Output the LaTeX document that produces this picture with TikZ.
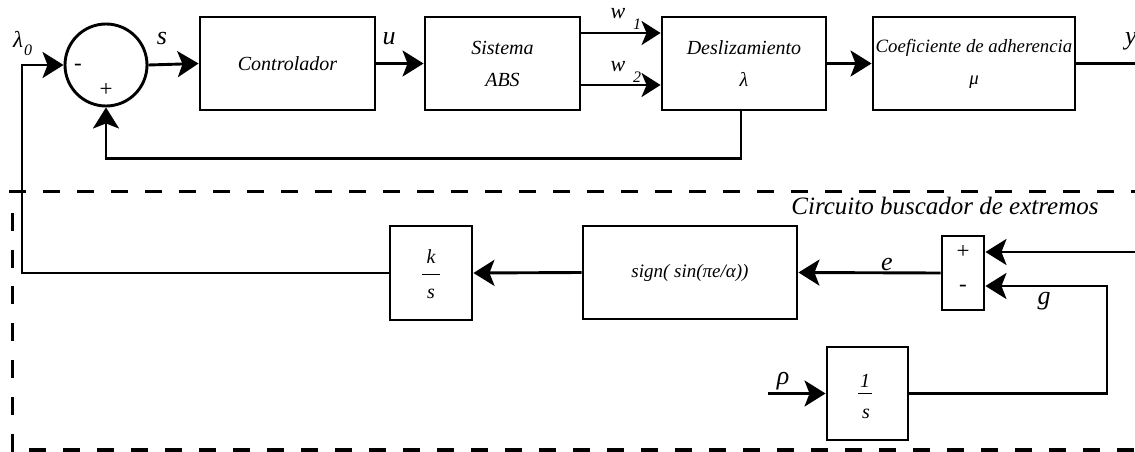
\documentclass[tikz,border=0pt]{standalone}
\usepackage{fontspec}
\setmainfont{Liberation Serif}
\usetikzlibrary{arrows.meta}
\begin{document}
\begin{tikzpicture}[x=1pt,y=-1pt,
  line width=2.9pt,
  arr/.style={-{Stealth[length=21pt,width=26pt,inset=5pt]}},
  arrw/.style={-{Stealth[length=19pt,width=24pt,inset=5pt]}},
  blk/.style={draw, line width=2.9pt, inner sep=0pt, font=\fontsize{20}{22}\selectfont\itshape, align=center},
  lbl/.style={font=\fontsize{26}{28}\selectfont\itshape, inner sep=0pt},
  sml/.style={font=\fontsize{22}{24}\selectfont\itshape, inner sep=0pt},
  sub/.style={font=\fontsize{16}{18}\selectfont\itshape, inner sep=0pt},
  frc/.style={font=\fontsize{20}{22}\selectfont\itshape, inner sep=0pt},
  sgn/.style={font=\fontsize{23}{24}\selectfont, inner sep=0pt},
  dsh/.style={line width=3pt, dash pattern=on 17pt off 17pt}]
\useasboundingbox (0,0) rectangle (1135,452);

% dashed frame
\draw[dsh] (9,191) -- (1135,191);
\draw[dsh, line width=3.4pt, dash phase=17pt] (12,450) -- (1135,450);
\draw[line width=3pt, dash pattern=on 18pt off 18.8pt, dash phase=18pt] (12,194) -- (12,452);

% upper blocks
\node[draw, circle, minimum size=82pt, inner sep=0pt] (sum) at (106,65) {};
\node[sgn] (sm) at (78,67) {-};
\node[sgn] (sp) at (106,90) {+};
\node[blk, minimum width=175pt, minimum height=93pt] (ctrl) at (287.5,63.5) {Controlador};
\node[blk, minimum width=155pt, minimum height=93pt] (abs) at (502.5,63.5) {Sistema\\[10pt]ABS};
\node[blk, minimum width=164pt, minimum height=93pt] (desl) at (744,63.5) {Deslizamiento\\[10pt]λ};
\node[blk, font=\fontsize{18.8}{22}\selectfont\itshape, minimum width=202pt, minimum height=93pt] (coef) at (974,63.5) {Coeficiente de adherencia\\[10pt]μ};

% lower blocks
\node[blk, font=\fontsize{19}{22}\selectfont\itshape, minimum width=214pt, minimum height=93pt] (sgnb) at (690,272.5) {sign( sin(πe/α))};
\node[blk, minimum width=82pt, minimum height=94pt] (ks) at (431,273) {};
\node[blk, minimum width=42pt, minimum height=74pt] (sumb) at (963,273) {};
\node[blk, minimum width=81pt, minimum height=93pt] (oneb) at (867.5,393.5) {};
\node[sgn] (bp) at (963,252) {+};
\node[sgn] (bm) at (963,288) {-};
\node[frc, anchor=base] (kk) at (431,263) {k};
\node[frc, anchor=base] (ks2) at (431,298) {s};
\draw[line width=1pt] (422,274) -- (440,274);
\node[frc, anchor=base] (one) at (865,387) {1};
\node[frc, anchor=base] (os2) at (866,418) {s};
\draw[line width=1pt] (858,393) -- (872,393);

% coordinates
\coordinate (c1) at (22,65);
\coordinate (yout) at (1135,63.5);
\coordinate (yin) at (1135,252);
\coordinate (gc) at (1107,286);
\coordinate (rho) at (768,393.5);

% upper connectors
\draw[arr] (ks.west) -| (c1) -- (sum.west);
\draw[arr] (sum.east) -- (ctrl.west);
\draw[arr] (ctrl.east) -- (abs.west);
\draw[arrw] ([yshift=30.5pt]abs.east) -- ([yshift=30.5pt]desl.west);
\draw[arrw] ([yshift=-21.5pt]abs.east) -- ([yshift=-21.5pt]desl.west);
\draw[arr] (desl.east) -- (coef.west);
\draw (coef.east) -- (yout);
\draw[arr] ([xshift=-3pt]desl.south) -- ++(0,47) -| (sum.south);

% lower connectors
\draw[arr] (yin) -- ([yshift=21pt]sumb.east);
\draw[arr] (oneb.east) -| (gc) -- ([yshift=-13pt]sumb.east);
\draw[arr] (sumb.west) -- (sgnb.east);
\draw[arr] (sgnb.west) -- (ks.east);
\draw[arr] (rho) -- (oneb.west);

% labels
\node[font=\fontsize{23}{24}\selectfont\itshape, inner sep=0pt, anchor=base] (lam) at (18,48) {λ};
\node[sub, anchor=base] (lam0) at (28,56) {0};
\node[lbl, anchor=base] (ls) at (162,45) {s};
\node[lbl, anchor=base] (lu) at (389,45) {u};
\node[sml, anchor=base] (lw1) at (618,19) {w};
\node[sub, anchor=base] (lw1s) at (637,30) {1};
\node[sml, anchor=base] (lw2) at (618,72) {w};
\node[sub, anchor=base] (lw2s) at (637,82) {2};
\node[lbl, anchor=base] (ly) at (1131,45) {y};
\node[lbl, anchor=base] (le) at (887,270) {e};
\node[lbl, anchor=base] (lg) at (1044,304) {g};
\node[lbl, anchor=base] (lr) at (783,384) {ρ};
\node[font=\fontsize{25}{28}\selectfont\itshape, inner sep=0pt, anchor=base east] (circ) at (1100,214) {Circuito buscador de extremos};
\end{tikzpicture}
\end{document}
